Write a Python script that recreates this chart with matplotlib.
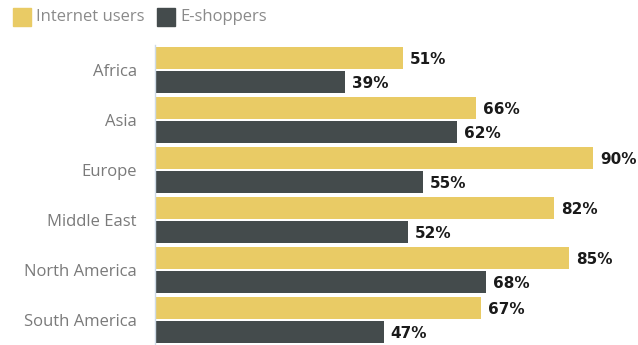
import numpy as np
import matplotlib
matplotlib.use("Agg")
import matplotlib.pyplot as plt
from matplotlib.patches import Rectangle

regions = ["Africa", "Asia", "Europe", "Middle East", "North America", "South America"]
internet_users = [51, 66, 90, 82, 85, 67]
e_shoppers = [39, 62, 55, 52, 68, 47]

C_YEL = "#E9CB65"
C_DARK = "#444B4C"
C_TXT = "#7a7a7a"

W, H = 638, 345
fig = plt.figure(figsize=(W / 100, H / 100), dpi=100)
ax = fig.add_axes([155 / W, 0, (W - 155) / W, 300 / H])

y = np.arange(len(regions))
bh = 0.44
ax.barh(y - 0.24, internet_users, height=bh, color=C_YEL)
ax.barh(y + 0.24, e_shoppers, height=bh, color=C_DARK)

for yi, v in zip(y - 0.24, internet_users):
    ax.text(v + 1.4, yi + 0.02, f"{v}%", va="center", ha="left",
            fontsize=11, fontweight="heavy", color="#1a1a1a")
for yi, v in zip(y + 0.24, e_shoppers):
    ax.text(v + 1.4, yi + 0.02, f"{v}%", va="center", ha="left",
            fontsize=11, fontweight="heavy", color="#1a1a1a")

ax.set_xlim(0, (W - 155) / 4.87)
ax.set_ylim(5.5, -0.5)
ax.set_yticks(y)
ax.set_yticklabels(regions, fontsize=12, color=C_TXT, family="Open Sans")
ax.tick_params(axis="y", length=0, pad=13)
ax.set_xticks([])
for s in ["top", "right", "bottom"]:
    ax.spines[s].set_visible(False)
ax.spines["left"].set_color("#cfdbe6")
ax.spines["left"].set_linewidth(1)

# legend
for x0, col, lab in [(13, C_YEL, "Internet users"), (157, C_DARK, "E-shoppers")]:
    fig.add_artist(Rectangle((x0 / W, 1 - 26 / H), 18 / W, 18 / H,
                             transform=fig.transFigure, color=col))
    fig.text((x0 + 23) / W, 1 - 17 / H, lab, va="center", ha="left",
             fontsize=12, color="#8a8a8a", family="Open Sans")

fig.savefig("out.png", dpi=100)
